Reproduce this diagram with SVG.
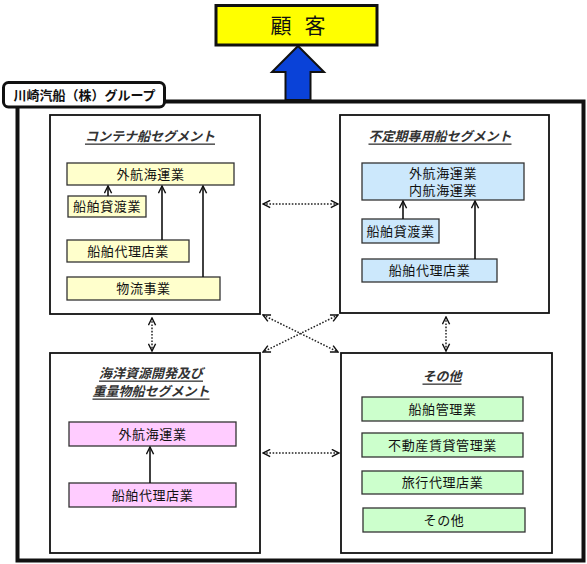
<svg xmlns="http://www.w3.org/2000/svg" width="587" height="564" viewBox="0 0 587 564">
<defs>
<style>
text{font-family:"Liberation Sans","Noto Sans CJK JP",sans-serif;fill:#111;}
.t{font-size:13px;text-anchor:middle;dominant-baseline:central;letter-spacing:0.6px;}
.ttl{font-size:13px;font-weight:bold;font-style:italic;text-decoration:underline;text-anchor:middle;dominant-baseline:central;fill:#333;}
.seg{fill:#fff;stroke:#111;stroke-width:1.8;}
.y{fill:#ffffcc;stroke:#333;stroke-width:1.3;}
.b{fill:#cce8fc;stroke:#333;stroke-width:1.3;}
.p{fill:#ffccff;stroke:#333;stroke-width:1.3;}
.g{fill:#ccffcc;stroke:#333;stroke-width:1.3;}
.sol{stroke:#111;stroke-width:1.6;fill:none;marker-end:url(#ah);}
.dot{stroke:#222;stroke-width:1.5;stroke-dasharray:1.6 1.6;fill:none;marker-end:url(#ah);marker-start:url(#ahs);}
</style>
<marker id="ah" markerUnits="userSpaceOnUse" viewBox="0 0 10 10" refX="9" refY="5" markerWidth="9" markerHeight="9" orient="auto"><path d="M1,1 L9,5 L1,9" fill="none" stroke="#111" stroke-width="1.6"/></marker>
<marker id="ahs" markerUnits="userSpaceOnUse" viewBox="0 0 10 10" refX="9" refY="5" markerWidth="9" markerHeight="9" orient="auto-start-reverse"><path d="M1,1 L9,5 L1,9" fill="none" stroke="#111" stroke-width="1.6"/></marker>
</defs>
<rect width="587" height="564" fill="#fff"/>

<g id="customer">
<rect x="216" y="5.5" width="161" height="39.5" fill="#ffff00" stroke="#111" stroke-width="3"/>
<text x="298" y="25.5" style="font-size:21px;text-anchor:middle;dominant-baseline:central;letter-spacing:13px" dx="6.5">顧客</text>
</g>

<g id="group-frame">
<rect x="17.5" y="101.5" width="566" height="459" fill="none" stroke="#111" stroke-width="4"/>
<rect x="3.5" y="82.5" width="161" height="24.5" rx="5" fill="#fff" stroke="#111" stroke-width="3"/>
<text x="84.5" y="95.5" style="font-size:13px;font-weight:bold;text-anchor:middle;dominant-baseline:central">川崎汽船（株）グループ</text>
</g>

<g id="container-segment">
<rect class="seg" x="50" y="115" width="210" height="199"/>
<text class="ttl" x="150" y="136">コンテナ船セグメント</text>
<g id="c-ocean"><rect class="y" x="67" y="163" width="167" height="22"/><text class="t" x="150.5" y="174">外航海運業</text></g>
<g id="c-charter"><rect class="y" x="68" y="196" width="78" height="21"/><text class="t" x="107" y="206.5">船舶貸渡業</text></g>
<g id="c-agency"><rect class="y" x="67" y="240" width="122" height="22"/><text class="t" x="128" y="251">船舶代理店業</text></g>
<g id="c-logistics"><rect class="y" x="67" y="277" width="153" height="23"/><text class="t" x="143.5" y="288.5">物流事業</text></g>
</g>

<g id="tramp-segment">
<rect class="seg" x="340" y="115" width="209" height="198"/>
<text class="ttl" x="440" y="136">不定期専用船セグメント</text>
<g id="t-shipping"><rect class="b" x="362" y="163" width="162" height="37"/><text class="t" x="443" y="173.5">外航海運業</text><text class="t" x="443" y="190">内航海運業</text></g>
<g id="t-charter"><rect class="b" x="362" y="219" width="77" height="24"/><text class="t" x="400.5" y="231">船舶貸渡業</text></g>
<g id="t-agency"><rect class="b" x="362" y="259" width="135" height="23"/><text class="t" x="429.5" y="270.5">船舶代理店業</text></g>
</g>

<g id="offshore-segment">
<rect class="seg" x="50" y="353" width="210" height="200"/>
<text class="ttl" x="151" y="373">海洋資源開発及び</text>
<text class="ttl" x="151" y="391">重量物船セグメント</text>
<g id="o-ocean"><rect class="p" x="69" y="422" width="167" height="24"/><text class="t" x="152.5" y="434">外航海運業</text></g>
<g id="o-agency"><rect class="p" x="69" y="483" width="167" height="24"/><text class="t" x="152.5" y="495">船舶代理店業</text></g>
</g>

<g id="other-segment">
<rect class="seg" x="341" y="353" width="211" height="200"/>
<text class="ttl" x="442" y="376">その他</text>
<g id="x-mgmt"><rect class="g" x="362" y="397" width="161" height="24"/><text class="t" x="442.5" y="409">船舶管理業</text></g>
<g id="x-realestate"><rect class="g" x="362" y="433" width="161" height="24"/><text class="t" x="442.5" y="445">不動産賃貸管理業</text></g>
<g id="x-travel"><rect class="g" x="362" y="471" width="161" height="23"/><text class="t" x="442.5" y="482.5">旅行代理店業</text></g>
<g id="x-other"><rect class="g" x="363" y="508" width="162" height="24"/><text class="t" x="444" y="520">その他</text></g>
</g>

<g id="connectors">
<polygon points="298,46 324,72 310.5,72 310.5,100 285.5,100 285.5,72 272,72" fill="#0a42d8" stroke="#111" stroke-width="2"/>
<line class="sol" x1="108" y1="196" x2="108" y2="186"/>
<line class="sol" x1="162" y1="240" x2="162" y2="186"/>
<line class="sol" x1="203" y1="277" x2="203" y2="186"/>
<line class="sol" x1="403" y1="219" x2="403" y2="201"/>
<line class="sol" x1="475" y1="259" x2="475" y2="201"/>
<line class="sol" x1="150" y1="483" x2="150" y2="447"/>
<line class="dot" x1="263" y1="204" x2="338" y2="204"/>
<line class="dot" x1="263" y1="453" x2="339" y2="453"/>
<line class="dot" x1="152" y1="318" x2="152" y2="351"/>
<line class="dot" x1="446" y1="317" x2="446" y2="351"/>
<line class="dot" x1="263" y1="315" x2="338" y2="352"/>
<line class="dot" x1="338" y1="315" x2="263" y2="352"/>
</g>
</svg>
